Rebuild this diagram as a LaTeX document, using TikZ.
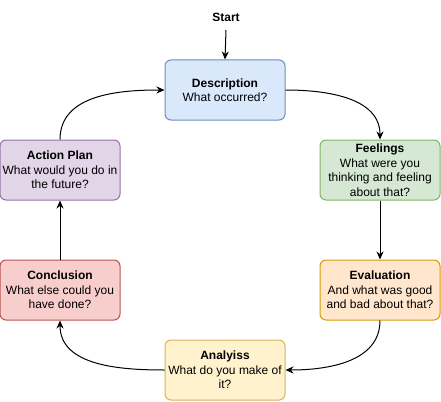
\documentclass[tikz,border=0pt]{standalone}
\usepackage{fontspec}
\setmainfont{Liberation Sans}
\usetikzlibrary{arrows.meta}
\definecolor{bluef}{HTML}{DAE8FC}\definecolor{bluel}{HTML}{6C8EBF}
\definecolor{greenf}{HTML}{D5E8D4}\definecolor{greenl}{HTML}{82B366}
\definecolor{orangef}{HTML}{FFE6CC}\definecolor{orangel}{HTML}{D79B00}
\definecolor{yellowf}{HTML}{FFF2CC}\definecolor{yellowl}{HTML}{D6B656}
\definecolor{redf}{HTML}{F8CECC}\definecolor{redl}{HTML}{B85450}
\definecolor{purplef}{HTML}{E1D5E7}\definecolor{purplel}{HTML}{9673A6}
\begin{document}
\begin{tikzpicture}[x=1pt,y=-1pt,
  box/.style={draw, line width=1pt, rounded corners=6pt, minimum width=120pt, minimum height=60pt, inner sep=0pt, align=center, font=\fontsize{12}{14.5}\selectfont},
  conn/.style={line width=1pt, -{Stealth[length=8pt,width=7pt]}}]
\useasboundingbox (0,0) rectangle (441,401);
\node[font=\fontsize{12}{14}\selectfont\bfseries] (start) at (226,17) {Start};
\node[box, fill=bluef, draw=bluel] (desc) at (225,90) {\textbf{Description}\\What occurred?};
\node[box, fill=greenf, draw=greenl] (feel) at (380,170) {\textbf{Feelings}\\What were you\\thinking and feeling\\about that?};
\node[box, fill=orangef, draw=orangel] (eval) at (380,290) {\textbf{Evaluation}\\And what was good\\and bad about that?};
\node[box, fill=yellowf, draw=yellowl] (anal) at (225,370) {\textbf{Analyiss}\\What do you make of\\it?};
\node[box, fill=redf, draw=redl] (conc) at (60,290) {\textbf{Conclusion}\\What else could you\\have done?};
\node[box, fill=purplef, draw=purplel] (act) at (60,170) {\textbf{Action Plan}\\What would you do in\\the future?};
\coordinate (st) at (226,30);
\draw[conn] (st) -- (desc.north);
\draw[conn] (desc.east) to[out=0,in=90] (feel.north);
\draw[conn] (feel.south) -- (eval.north);
\draw[conn] (eval.south) to[out=-90,in=0] (anal.east);
\draw[conn] (anal.west) to[out=180,in=-90] (conc.south);
\draw[conn] (conc.north) -- (act.south);
\draw[conn] (act.north) to[out=90,in=180] (desc.west);
\end{tikzpicture}
\end{document}
